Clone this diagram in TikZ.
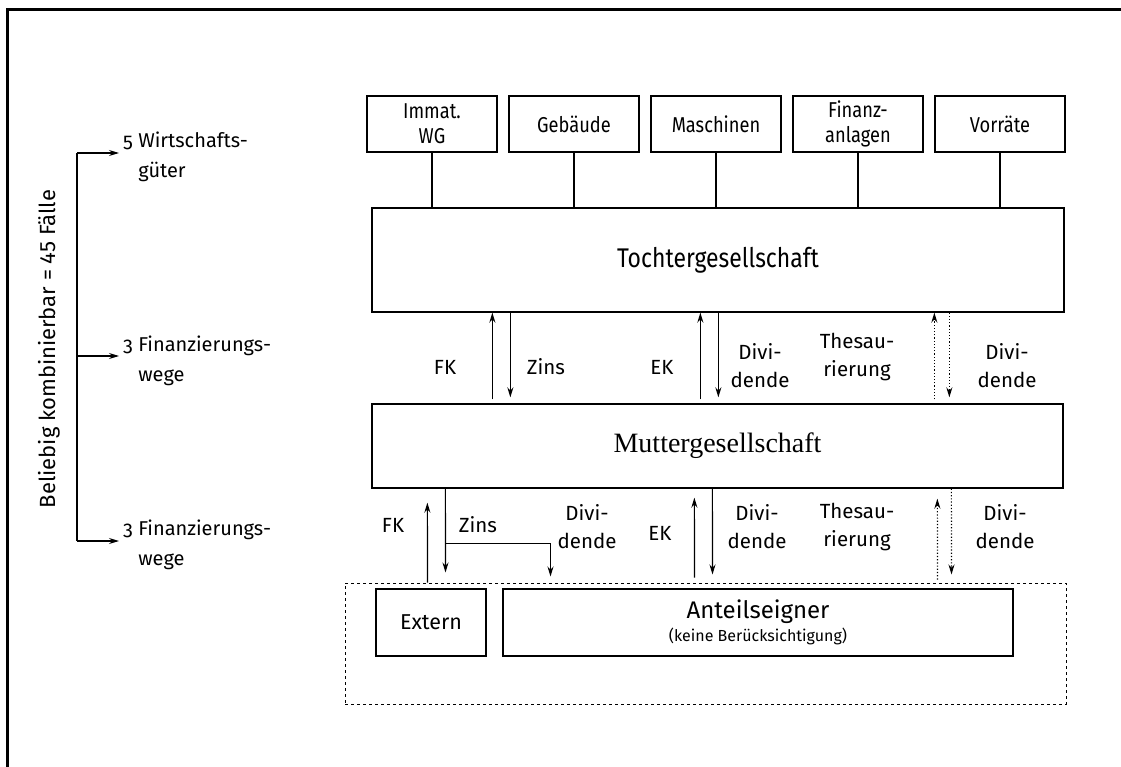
\documentclass[tikz,border=0pt]{standalone}
\usepackage{fontspec}
\setmainfont{Fira Sans}
\newfontfamily\condfont{Fira Sans}[FakeStretch=0.85]
\newfontfamily\onumfont{Fira Sans}[Numbers=OldStyle]
\newfontfamily\muttfont{Liberation Serif}
\usetikzlibrary{arrows.meta}

\begin{document}
\begin{tikzpicture}[x=1pt, y=-1pt,
        box/.style={draw, rectangle, align=center, inner sep=0pt, line width=1.3pt},
        asset/.style={box, minimum width=130, minimum height=56, font=\condfont\fontsize{21.5}{25}\selectfont},
        arrow/.style={-{Stealth[length=10pt,width=6pt]}, line width=1.2pt},
        dotarrow/.style={arrow, dotted},
        conn/.style={line width=1.2pt},
        lbl/.style={align=center, inner sep=0pt, font=\fontsize{20.5}{28}\selectfont},
        side/.style={align=left, inner sep=0pt, anchor=north west, font=\onumfont\fontsize{20}{30}\selectfont}
    ]
        \useasboundingbox (0,0) rectangle (1121,767);
        % Frame
        \draw[line width=3pt] (7.5,767) -- (7.5,10) -- (1121,10);

        % Assets
        \node[asset] (immat) at (432,124) {Immat.\\WG};
        \node[asset] (gebaeude) at (574,124) {Gebäude};
        \node[asset] (maschinen) at (716,124) {Maschinen};
        \node[asset] (finanz) at (858,124) {Finanz-\\anlagen};
        \node[asset] (vorraete) at (1000,124) {Vorräte};

        % Companies
        \node[box, minimum width=692, minimum height=104, font=\condfont\fontsize{27}{32}\selectfont] (toch) at (718,260) {Tochtergesellschaft};
        \node[box, minimum width=691, minimum height=84, font=\muttfont\fontsize{28}{32}\selectfont] (mutter) at (717.5,446) {Muttergesellschaft};

        % Shareholders
        \node[box, dashed, line width=1pt, minimum width=721, minimum height=121] (aussen) at (705.5,643.5) {};
        \node[box, minimum width=110, minimum height=67, font=\fontsize{21.5}{25}\selectfont] (extern) at (431,622.5) {Extern};
        \node[box, minimum width=510, minimum height=67, font=\fontsize{24}{23}\selectfont] (anteil) at (758,622.5) {Anteilseigner\\{\fontsize{16}{18}\selectfont (keine Berücksichtigung)}};

        % Asset lines
        \draw[conn] (immat.south) -- (immat.south |- toch.north);
        \draw[conn] (gebaeude.south) -- (gebaeude.south |- toch.north);
        \draw[conn] (maschinen.south) -- (maschinen.south |- toch.north);
        \draw[conn] (finanz.south) -- (finanz.south |- toch.north);
        \draw[conn] (vorraete.south) -- (vorraete.south |- toch.north);

        % Mutter <-> Tochter
        \draw[arrow] ([xshift=121,yshift=4]mutter.north west) -- ([xshift=121]toch.south west);
        \draw[arrow] ([xshift=139]toch.south west) -- ([xshift=139,yshift=6]mutter.north west);
        \draw[arrow] ([xshift=329,yshift=4]mutter.north west) -- ([xshift=329]toch.south west);
        \draw[arrow] ([xshift=347]toch.south west) -- ([xshift=347,yshift=6]mutter.north west);
        \draw[dotarrow] ([xshift=563,yshift=4]mutter.north west) -- ([xshift=563]toch.south west);
        \draw[dotarrow] ([xshift=578]toch.south west) -- ([xshift=578,yshift=6]mutter.north west);

        \node[lbl] (fk1) at (445,367) {FK};
        \node[lbl] (zins1) at (546,367) {Zins};
        \node[lbl] (ek1) at (662,367) {EK};
        \node[lbl] (div1) at (760,366) {Divi-\\dende};
        \node[lbl] (thes1) at (857,357) {Thesau-\\rierung};
        \node[lbl] (div2) at (1007,366) {Divi-\\dende};

        % Anteilseigner <-> Mutter
        \draw[arrow] ([xshift=83]aussen.north west) -- ([xshift=56,yshift=-14]mutter.south west);
        \draw[arrow] ([xshift=74]mutter.south west) -- ([xshift=101,yshift=10]aussen.north west);
        \draw[arrow] ([xshift=74,yshift=-55]mutter.south west) -| ([xshift=206,yshift=6]aussen.north west);
        \draw[arrow] ([xshift=350,yshift=5]aussen.north west) -- ([xshift=323,yshift=-9]mutter.south west);
        \draw[arrow] ([xshift=341]mutter.south west) -- ([xshift=368,yshift=8]aussen.north west);
        \draw[dotarrow] ([xshift=593,yshift=3]aussen.north west) -- ([xshift=566,yshift=-10]mutter.south west);
        \draw[dotarrow] ([xshift=580]mutter.south west) -- ([xshift=607,yshift=8]aussen.north west);

        \node[lbl] (fk2) at (393,525) {FK};
        \node[lbl] (zins2) at (478,525) {Zins};
        \node[lbl] (div3) at (587,527) {Divi-\\dende};
        \node[lbl] (ek2) at (660,533) {EK};
        \node[lbl] (div4) at (757,527) {Divi-\\dende};
        \node[lbl] (thes2) at (857,527) {Thesau-\\rierung};
        \node[lbl] (div5) at (1005,527) {Divi-\\dende};

        % Combinations
        \node[side] (wgtxt) at (123,132) {5 Wirtschafts-\\\phantom{5 }güter};
        \node[side] (fintxt1) at (123,336) {3 Finanzierungs-\\\phantom{3 }wege};
        \node[side] (fintxt2) at (123,520) {3 Finanzierungs-\\\phantom{3 }wege};
        \node[rotate=90, inner sep=0pt, font=\fontsize{22}{28}\selectfont] (kombi) at (49,349) {Beliebig kombinierbar = 45 Fälle};

        \coordinate (brtop) at (77,153);
        \coordinate (brmid) at (77,356);
        \coordinate (brbot) at (77,541);
        \draw[conn] (brtop) -- (brbot);
        \draw[arrow] (brtop) -- ([xshift=-4]brtop -| wgtxt.west);
        \draw[arrow] (brmid) -- ([xshift=-4]brmid -| fintxt1.west);
        \draw[arrow] (brbot) -- ([xshift=-4]brbot -| fintxt2.west);

    \end{tikzpicture}
\end{document}
